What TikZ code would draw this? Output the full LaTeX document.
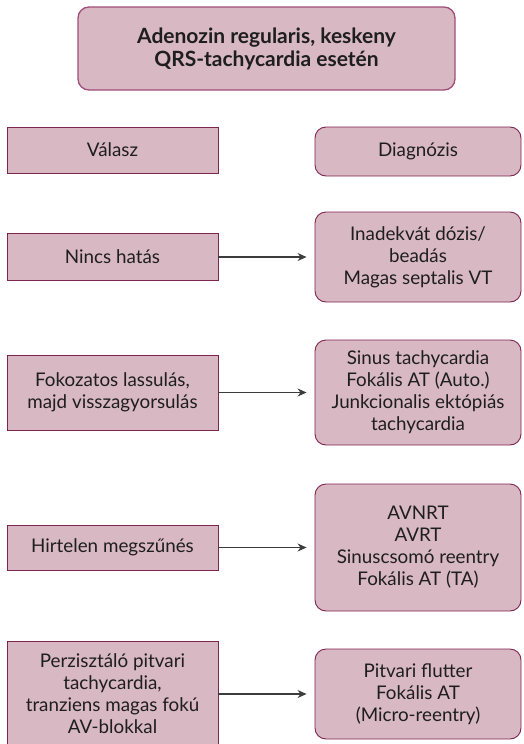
\documentclass[tikz,border=0pt]{standalone}
\usepackage{fontspec}
\setmainfont{Lato}
\usetikzlibrary{arrows.meta}
\definecolor{boxfill}{HTML}{D8B8C2}
\definecolor{boxline}{HTML}{7E2450}
\definecolor{titleline}{HTML}{A24D7B}
\definecolor{txt}{HTML}{1E1E1E}
\definecolor{arrowgray}{HTML}{3C3C3C}
\begin{document}
\begin{tikzpicture}[x=1pt,y=-1pt,
  base/.style={fill=boxfill, draw=boxline, line width=0.9pt, align=center,
    text=txt, inner sep=0pt, font=\fontsize{18.8}{22}\selectfont},
  respbox/.style={base, minimum width=211pt},
  diagbox/.style={base, rounded corners=11pt, minimum width=206pt},
  titlebox/.style={base, draw=titleline, line width=1.3pt, rounded corners=11pt,
    minimum width=377pt, minimum height=83pt,
    font=\fontsize{21}{23}\selectfont\bfseries},
  link/.style={draw=arrowgray, line width=1.1pt, -{Stealth[length=9pt,width=8pt]},
    shorten >=8pt}]
\useasboundingbox (0,0) rectangle (523,744);
\clip (0,0) rectangle (523,744);

% heading
\node[titlebox] (title) at (266.5,48.5) {Adenozin regularis, keskeny\\QRS-tachycardia esetén};

% column headers
\node[respbox, minimum height=46pt] (hresp) at (112.5,150) {Válasz};
\node[diagbox, minimum height=49pt] (hdiag) at (418,151.5) {Diagnózis};

% responses
\node[respbox, minimum height=47pt] (r1) at (112.5,257) {Nincs hatás};
\node[respbox, minimum height=75pt] (r2) at (112.5,392.5) {Fokozatos lassulás,\\majd visszagyorsulás};
\node[respbox, minimum height=45pt] (r3) at (112.5,547.5) {Hirtelen megszűnés};
\node[respbox, minimum height=106pt] (r4) at (112.5,694) {Perzisztáló pitvari\\tachycardia,\\tranziens magas fokú\\AV-blokkal};

% diagnoses
\node[diagbox, minimum height=90pt] (d1) at (418,257) {Inadekvát dózis/\\beadás\\Magas septalis VT};
\node[diagbox, minimum height=105pt] (d2) at (418,392.5) {Sinus tachycardia\\Fokális AT (Auto.)\\Junkcionalis ektópiás\\tachycardia};
\node[diagbox, minimum height=127pt] (d3) at (418,547.5) {AVNRT\\AVRT\\Sinuscsomó reentry\\Fokális AT (TA)};
\node[diagbox, minimum height=90pt] (d4) at (418,694) {Pitvari flutter\\Fokális AT\\(Micro-reentry)};

% connectors
\draw[link] (r1.east) -- (r1.east -| d1.west);
\draw[link] (r2.east) -- (r2.east -| d2.west);
\draw[link] (r3.east) -- (r3.east -| d3.west);
\draw[link] (r4.east) -- (r4.east -| d4.west);
\end{tikzpicture}
\end{document}
